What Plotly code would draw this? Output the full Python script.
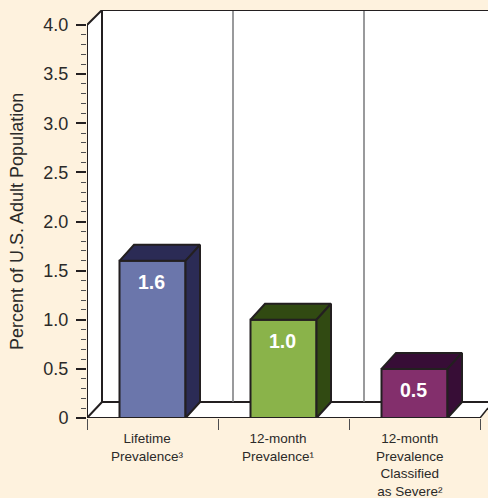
import plotly.graph_objects as go

categories = ["Lifetime<br>Prevalence³",
              "12-month<br>Prevalence¹",
              "12-month<br>Prevalence<br>Classified<br>as Severe²"]
values = [1.6, 1.0, 0.5]
front_colors = ["#6b76ab", "#8ab34a", "#832f6c"]
side_colors = ["#2b2b55", "#314a12", "#370d36"]
y_major = [0, 0.5, 1.0, 1.5, 2.0, 2.5, 3.0, 3.5, 4.0]
y_major_labels = ["0", "0.5", "1.0", "1.5", "2.0", "2.5", "3.0", "3.5", "4.0"]
y_minor = [i / 10 for i in range(41) if i % 5]
x_edges = [-0.5, 0.5, 1.5, 2.5]

BG = "#fef2de"
INK = "#231f20"
TEXT = "#2b2a29"
FONT = "Liberation Sans"
PX_X = 131.0
PX_Y = 98.25
DX = 15 / PX_X
DY = 16 / PX_Y
XMAX = -0.5 + 401 / PX_X
YMAX = 408 / PX_Y
BAR_W = 66 / PX_X

fig = go.Figure()
x_pos = list(range(len(values)))

fig.add_trace(go.Bar(x=x_pos, y=values, width=BAR_W,
                     marker=dict(color=front_colors, line=dict(color=INK, width=2)),
                     showlegend=False, hoverinfo="skip"))

for x, v, c in zip(x_pos, values, side_colors):
    x0, x1 = x - BAR_W / 2, x + BAR_W / 2
    bdx = 14.5 / PX_X
    fig.add_trace(go.Scatter(x=[x0, x0 + bdx, x1 + bdx, x1, x0],
                             y=[v, v + DY, v + DY, v, v],
                             mode="lines", fill="toself", fillcolor=c,
                             line=dict(color=INK, width=2), showlegend=False, hoverinfo="skip"))
    fig.add_trace(go.Scatter(x=[x1, x1 + bdx, x1 + bdx, x1, x1],
                             y=[0, DY, v + DY, v, 0],
                             mode="lines", fill="toself", fillcolor=c,
                             line=dict(color=INK, width=2), showlegend=False, hoverinfo="skip"))

# axis and frame lines that reach the plot edges
frame = [([-0.5, -0.5], [0, 4]),
         ([-0.5, 2.5], [0, 0]),
         ([-0.5 + DX, XMAX], [YMAX, YMAX])]
for fx, fy in frame:
    fig.add_trace(go.Scatter(x=fx, y=fy, mode="lines", cliponaxis=False,
                             line=dict(color=INK, width=2), showlegend=False, hoverinfo="skip"))

shapes = [
    dict(type="path", layer="below", line=dict(width=0), fillcolor="white",
         path=f"M -0.5 0 L -0.5 4 L {-0.5 + DX} {YMAX} L {XMAX} {YMAX} L {XMAX} {DY * 0.62} L 2.5 0 Z"),
    dict(type="line", layer="below", x0=-0.5 + DX, x1=-0.5 + DX, y0=DY, y1=YMAX, line=dict(color=INK, width=2)),
    dict(type="line", layer="below", x0=-0.5, x1=-0.5 + DX, y0=0, y1=DY, line=dict(color=INK, width=2)),
    dict(type="line", layer="below", x0=-0.5, x1=-0.5 + DX, y0=4, y1=YMAX, line=dict(color=INK, width=2)),
    dict(type="line", layer="below", x0=-0.5 + DX, x1=XMAX, y0=DY, y1=DY, line=dict(color=INK, width=2)),
    dict(type="line", layer="below", x0=2.5, x1=XMAX, y0=0, y1=DY * 0.62, line=dict(color=INK, width=1.5)),
]
for e in x_edges[1:3]:
    shapes.append(dict(type="line", layer="below", x0=e + DX, x1=e + DX, y0=DY, y1=YMAX,
                       line=dict(color="#77787b", width=1.5)))

annotations = []
for x, v, c in zip(x_pos, values, categories):
    annotations.append(dict(x=x, y=v, xref="x", yref="y", text=f"{v:.1f}", showarrow=False,
                            xshift=-1.5, yshift=-21,
                            font=dict(family=FONT, size=19.5, color="white", weight="bold")))
    annotations.append(dict(x=x, y=0, xref="x", yref="y", text=c, showarrow=False, xanchor="center",
                            yanchor="top", xshift=-5, yshift=-11, align="center",
                            font=dict(family=FONT, size=13.5, color=TEXT)))
annotations.append(dict(x=(17 - 87) / 401, y=(418 - 222) / 408, xref="paper", yref="paper",
                        xanchor="center", yanchor="middle",
                        text="Percent of U.S. Adult Population",
                        showarrow=False, textangle=-90,
                        font=dict(family=FONT, size=18, color=TEXT)))

fig.update_layout(
    width=488, height=498, margin=dict(l=87, r=0, t=10, b=80),
    paper_bgcolor=BG, plot_bgcolor="rgba(0,0,0,0)",
    shapes=shapes, annotations=annotations, showlegend=False, barmode="overlay",
    xaxis=dict(range=[-0.5, XMAX], showgrid=False, zeroline=False, showline=False, ticks="",
               tickmode="array", tickvals=[],
               minor=dict(tickmode="array", tickvals=x_edges, ticks="outside", ticklen=11,
                          tickwidth=1, tickcolor="#4d4d4f")),
    yaxis=dict(range=[0, YMAX], showgrid=False, zeroline=False, showline=False,
               tickmode="array", tickvals=y_major, ticktext=y_major_labels,
               ticks="outside", ticklen=10, tickwidth=1.5, tickcolor=INK, ticklabelstandoff=4,
               tickfont=dict(family=FONT, size=18, color=TEXT),
               minor=dict(tickmode="array", tickvals=y_minor, ticks="outside", ticklen=5,
                          tickwidth=1, tickcolor="#4d4d4f")),
)

fig.write_html("out.html", post_script="document.body.style.margin='0';document.documentElement.style.background='#fef2de';",
               config=dict(displayModeBar=False))
